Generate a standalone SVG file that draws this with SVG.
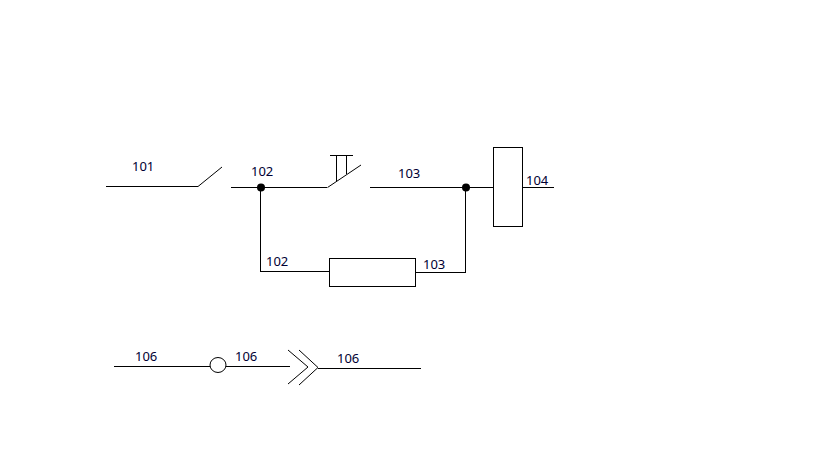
<svg xmlns="http://www.w3.org/2000/svg" width="819" height="460" viewBox="0 0 819 460">
<style>
.w{fill:none;stroke:#000;stroke-width:1;shape-rendering:crispEdges}
.d{fill:none;stroke:#000;stroke-width:1}
.b{fill:#fff;stroke:#000;stroke-width:1;shape-rendering:crispEdges}
.j{fill:#000}
text{font-family:"Noto Sans","DejaVu Sans",sans-serif;font-size:13px;fill:#000033}
</style>
<rect width="819" height="460" fill="#fff"/>
<g id="connectors">
<path class="w" d="M106 186.500H198"/>
<path class="d" d="M198 186.500L222 167"/>
<path class="w" d="M231 187.500H327"/>
<path class="d" d="M327.500 187.500L361 165"/>
<path class="w" d="M336.500 181V155.500M346.500 174V155.500M330 155.500H353"/>
<path class="w" d="M260.500 187V271.500H329"/>
<path class="w" d="M370 187.500H493"/>
<path class="w" d="M465.500 187V272.500H415"/>
<path class="w" d="M523 187.500H554"/>
<path class="w" d="M114 366.500H210M226 366.500H290"/>
<path class="d" d="M288 350L308 367L288 384M299 350L318 367.500L299 385"/>
<path class="w" d="M318 368.500H421"/>
</g>
<g id="j1"><circle class="j" cx="261" cy="187.500" r="4"/></g>
<g id="j2"><circle class="j" cx="466" cy="187.500" r="4"/></g>
<g id="resistor"><rect class="b" x="329.500" y="258.500" width="86" height="28"/></g>
<g id="coil"><rect class="b" x="493.500" y="147.500" width="29" height="79"/></g>
<g id="lamp"><ellipse cx="218" cy="365" rx="8" ry="7.500" fill="#fff" stroke="#000"/></g>
<g id="labels">
<text x="132" y="171">101</text>
<text x="251" y="176">102</text>
<text x="398" y="178">103</text>
<text x="526" y="185">104</text>
<text x="266" y="266">102</text>
<text x="423" y="269">103</text>
<text x="135" y="361">106</text>
<text x="235" y="361">106</text>
<text x="337" y="363">106</text>
</g>
</svg>
